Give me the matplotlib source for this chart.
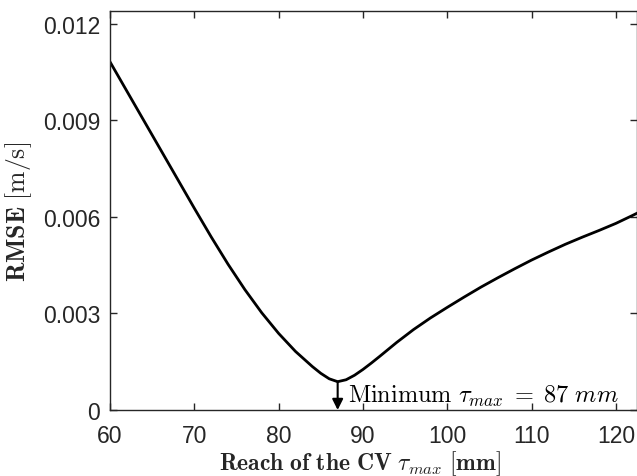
#!/usr/bin/env python3
"""RMSE vs reach of the CV, with the minimum marked."""

import matplotlib

matplotlib.use("Agg")
import matplotlib.pyplot as plt
import numpy as np

reach_mm = [60, 62, 64, 66, 68, 70, 72, 74, 76, 78, 80, 82, 84, 85, 86, 87,
            88, 89, 90, 91, 92, 94, 96, 98, 100, 102, 104, 106, 108, 110,
            112, 114, 116, 118, 120, 122, 123]
rmse = [0.01082, 0.00991, 0.00900, 0.00809, 0.00718, 0.00627, 0.00538,
        0.00453, 0.00374, 0.00302, 0.00238, 0.00182, 0.00135, 0.00114,
        0.00097, 0.00088, 0.00094, 0.00108, 0.00126, 0.00146, 0.00167,
        0.00210, 0.00250, 0.00286, 0.00319, 0.00351, 0.00382, 0.00411,
        0.00439, 0.00466, 0.00491, 0.00515, 0.00537, 0.00558, 0.00580,
        0.00605, 0.00618]

x_ticks = [60, 70, 80, 90, 100, 110, 120]
y_ticks = [0, 0.003, 0.006, 0.009, 0.012]
y_tick_labels = ["0", "0.003", "0.006", "0.009", "0.012"]

plt.rcParams["mathtext.fontset"] = "cm"
plt.rcParams["font.family"] = ["Liberation Sans", "DejaVu Sans"]

axis_gray = "#262626"

fig = plt.figure(figsize=(6.37, 4.77), dpi=100)
ax = fig.add_axes([110 / 637, 66 / 477, 527 / 637, 399 / 477])

ax.plot(reach_mm, rmse, color="black", linewidth=2.0)

i_min = int(np.argmin(rmse))
x_min, y_min = reach_mm[i_min], rmse[i_min]
ax.annotate(
    "",
    xy=(x_min, 0),
    xytext=(x_min, y_min),
    arrowprops={"arrowstyle": "-|>", "color": "black", "lw": 1.5,
                "mutation_scale": 16, "shrinkA": 0, "shrinkB": 0},
)
ax.text(x_min + 1.2, 0.00025,
        r"$\mathrm{Minimum}\ \tau_{max}\; = \;%d\ mm$" % x_min,
        fontsize=17.5, color="black", ha="left", va="baseline")

ax.set_xlim(60, 122.5)
ax.set_ylim(0, 0.0124)
ax.set_xticks(x_ticks)
ax.set_yticks(y_ticks)
ax.set_yticklabels(y_tick_labels)

ax.tick_params(direction="in", length=5, width=1, colors=axis_gray,
               labelsize=16.5, top=True, right=True)
ax.tick_params(axis="x", pad=10)
ax.tick_params(axis="y", pad=7)
for spine in ax.spines.values():
    spine.set_color(axis_gray)
    spine.set_linewidth(1.0)

ax.set_xlabel(r"$\mathbf{Reach\ of\ the\ CV}\ \tau_{max}\ [\mathbf{mm}]$",
              fontsize=17, color=axis_gray)
ax.xaxis.set_label_coords((360 - 110) / 527, -0.095)
ax.set_ylabel(r"$\mathbf{RMSE}\ [\mathrm{m/s}]$", fontsize=18.5, color=axis_gray)
ax.yaxis.set_label_coords((34 - 110) / 527, (411 - 212) / 399)

fig.savefig("out.png", dpi=100)
